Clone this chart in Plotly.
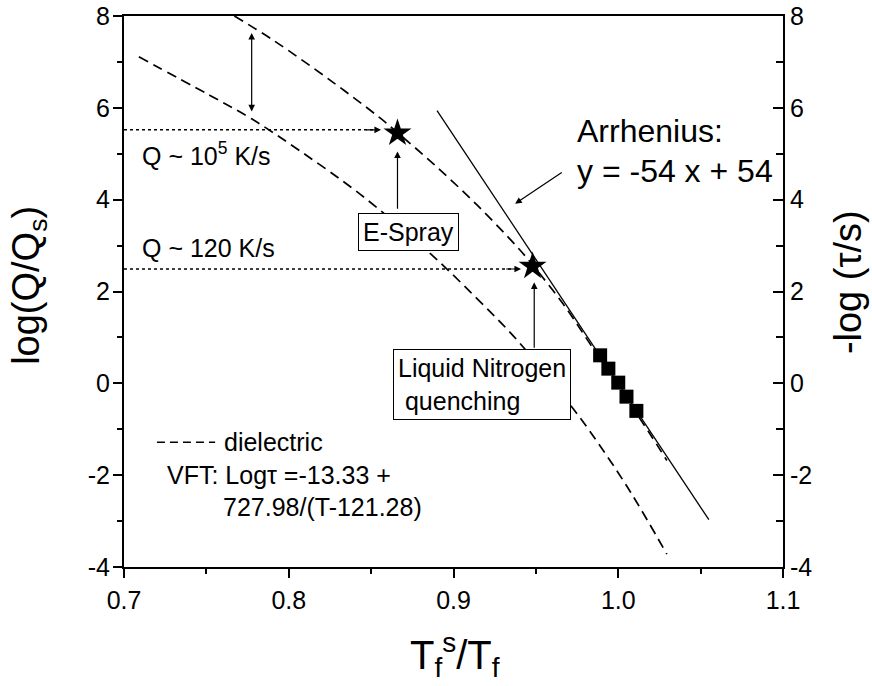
import plotly.graph_objects as go

FONT = "Liberation Sans, Arial, sans-serif"

# ---- data ----
upper_x = [0.767, 0.7907, 0.8271, 0.8554, 0.866, 0.8878, 0.9141, 0.9384, 0.948, 0.9667, 0.9829, 1.0, 1.0194, 1.0295]
upper_y = [8.0, 7.47, 6.55, 5.78, 5.46, 4.78, 3.89, 2.98, 2.58, 1.72, 0.86, -0.06, -1.11, -1.68]

lower_x = [0.709, 0.7522, 0.7775, 0.8069, 0.8433, 0.8858, 0.9141, 0.9384, 0.9728, 0.987, 1.0073, 1.0295]
lower_y = [7.11, 6.27, 5.76, 5.06, 4.12, 2.83, 1.85, 0.95, -0.56, -1.26, -2.36, -3.72]

arrh_x = [0.89, 1.055]
arrh_y = [5.94, -2.97]

star_x = [0.866, 0.948]
star_y = [5.45, 2.55]

sq_x = [0.989, 0.994, 1.000, 1.005, 1.011]
sq_y = [0.61, 0.32, 0.015, -0.29, -0.60]

x_ticks = [0.7, 0.8, 0.9, 1.0, 1.1]
y_ticks = [-4, -2, 0, 2, 4, 6, 8]

fig = go.Figure()
dash = "10px,6px"
for xs, ys in ((upper_x, upper_y), (lower_x, lower_y)):
    fig.add_trace(go.Scatter(x=xs, y=ys, mode="lines",
                             line=dict(color="black", width=1.7, dash=dash, shape="spline", smoothing=1.0),
                             showlegend=False))
fig.add_trace(go.Scatter(x=arrh_x, y=arrh_y, mode="lines", line=dict(color="black", width=1.3), showlegend=False))
fig.add_trace(go.Scatter(x=star_x, y=star_y, mode="markers", marker=dict(symbol="star", size=21, color="black"), showlegend=False))
fig.add_trace(go.Scatter(x=sq_x, y=sq_y, mode="markers", marker=dict(symbol="square", size=14, color="black"), yaxis="y2", showlegend=False))

ann = []
def arrow(xh, yh, xt, yt, both=False):
    ann.append(dict(x=xh, y=yh, ax=xt, ay=yt, xref="x", yref="y", axref="x", ayref="y",
                    text="", showarrow=True, arrowhead=2, arrowsize=1.1, arrowwidth=1.2,
                    arrowcolor="black", arrowside="end+start" if both else "end"))

def text(x, y, t, size=25, xanchor="left", box=False, align="left"):
    d = dict(x=x, y=y, xref="x", yref="y", text=t, showarrow=False, xanchor=xanchor,
             yanchor="middle", align=align, font=dict(family=FONT, size=size, color="black"))
    if box:
        d.update(bordercolor="black", borderwidth=1, borderpad=4, bgcolor="white")
    ann.append(d)

def ptext(x, y, t, size, angle=0):
    ann.append(dict(x=x, y=y, xref="paper", yref="paper", text=t, showarrow=False,
                    xanchor="center", yanchor="middle", textangle=angle,
                    font=dict(family=FONT, size=size, color="black")))

# arrows
arrow(0.7775, 7.63, 0.7775, 5.89, both=True)
arrow(0.866, 5.05, 0.866, 3.77)
arrow(0.949, 2.20, 0.949, 0.74)
arrow(0.9374, 3.91, 0.9666, 4.615)
arrow(0.856, 5.52, 0.846, 5.52)
arrow(0.941, 2.49, 0.931, 2.49)

# texts
text(0.9738, 5.485, "Arrhenius:", size=32)
text(0.9738, 4.615, "y = -54 x + 54", size=32)
text(0.7097, 5.0, "Q ~ 10<sup>5</sup> K/s")
text(0.7097, 2.957, "Q ~ 120 K/s")
text(0.8724, 3.30, "E-Spray", xanchor="center", box=True)
text(0.9174, -0.015, "Liquid Nitrogen<br> quenching", xanchor="center", box=True)
text(0.7595, -1.283, "dielectric")
text(0.7249, -2.0, "VFT: Logτ =-13.33 +")
text(0.759, -2.696, "727.98/(T-121.28)")

# axis titles
ptext(-0.1442, 0.512, "log(Q/Q<sub>s</sub>)", 38, -90)
ptext(1.0986, 0.517, "-log (τ/s)", 38, -90)
ptext(0.502, -0.16, "T<sub>f</sub><sup>s</sup>/T<sub>f</sub>", 40)

shapes = [
    dict(type="line", xref="x", yref="y", x0=0.70, x1=0.852, y0=5.52, y1=5.52, line=dict(color="black", width=1.5, dash="dot")),
    dict(type="line", xref="x", yref="y", x0=0.70, x1=0.937, y0=2.49, y1=2.49, line=dict(color="black", width=1.5, dash="dot")),
    dict(type="line", xref="x", yref="y", x0=0.7200, x1=0.7553, y0=-1.283, y1=-1.283, line=dict(color="black", width=1.6, dash="8px,5px")),
]

axis_common = dict(showline=True, linecolor="black", linewidth=2, showgrid=False, zeroline=False,
                   automargin=False, ticklabeloverflow="allow",
                   tickfont=dict(family=FONT, size=25, color="black"), tickcolor="black", tickwidth=2)

ylabels = [str(v) for v in y_ticks]

fig.update_layout(
    template="none",
    width=872, height=686,
    margin=dict(l=124, r=89, t=16, b=119),
    paper_bgcolor="white", plot_bgcolor="white",
    font=dict(family=FONT, color="black"),
    showlegend=False,
    xaxis=dict(range=[0.7, 1.1], tickvals=x_ticks, ticktext=[f"{v:.1f}" for v in x_ticks],
               ticks="outside", ticklen=9, mirror=True, ticklabelstandoff=1,
               minor=dict(dtick=0.05, tick0=0.7, ticks="outside", ticklen=5, tickcolor="black", tickwidth=2, showgrid=False),
               **axis_common),
    yaxis=dict(range=[-4, 8], tickvals=y_ticks, ticktext=ylabels, ticks="outside", ticklen=9,
               minor=dict(dtick=1, tick0=0, ticks="outside", ticklen=5, tickcolor="black", tickwidth=2, showgrid=False),
               ticklabelstandoff=-2,
               **axis_common),
    yaxis2=dict(range=[-4, 8], tickvals=y_ticks, ticktext=ylabels, overlaying="y", side="right", ticks="inside", ticklen=10,
                minor=dict(dtick=1, tick0=0, ticks="inside", ticklen=7, tickcolor="black", tickwidth=2, showgrid=False),
                **axis_common),
    annotations=ann,
    shapes=shapes,
)

fig.write_html("out.html", config={"displayModeBar": False},
               post_script="document.body.style.margin='0';document.body.style.overflow='hidden';")
